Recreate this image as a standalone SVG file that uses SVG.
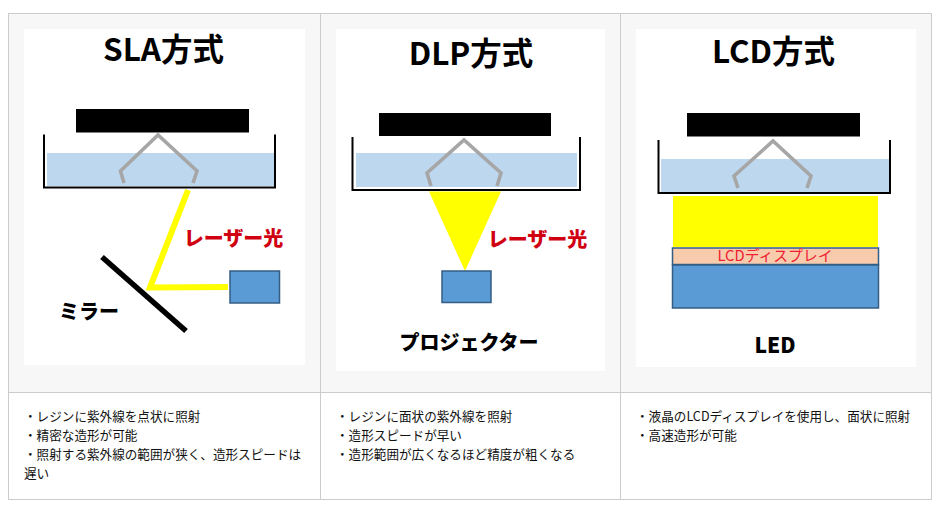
<svg xmlns="http://www.w3.org/2000/svg" width="937" height="505" viewBox="0 0 937 505">
<style>
text{font-family:"Noto Sans CJK JP","Liberation Sans",sans-serif}
.grid{fill:none;stroke:#ccc;stroke-width:1}
.title{font-size:31.500px;font-weight:700;fill:#000;text-anchor:middle}
.lab{font-size:20px;font-weight:900;fill:#000;text-anchor:middle}
.red{font-size:20px;font-weight:900;fill:#d00010;text-anchor:middle}
.body{font-size:12.6px;fill:#111}
.plate{fill:#000}
.liq{fill:#bdd7ee}
.tank{fill:none;stroke:#000;stroke-width:2}
.arm{fill:none;stroke:#a6a6a6;stroke-width:3.600}
.blue{fill:#5b9bd5;stroke:#335d85;stroke-width:1.500}
.beam{fill:none;stroke:#ff0;stroke-width:6}
</style>
<rect width="937" height="505" fill="#fff"/>
<g id="table">
<rect x="8.500" y="13.500" width="923" height="379" fill="#f7f7f7"/>
<rect x="8.500" y="13.500" width="923" height="486" class="grid"/>
<path class="grid" d="M320.500 13.500V499.500M620.500 13.500V499.500M8.500 392.500H931.500"/>
</g>
<g id="sla">
<rect x="24" y="29" width="281" height="336" fill="#fff"/>
<text x="163.500" y="61" class="title">SLA方式</text>
<rect x="76" y="109" width="173" height="23.500" class="plate"/>
<rect x="47" y="153" width="227" height="33" class="liq"/>
<path class="tank" d="M44 134.500V187.500H275V134.500"/>
<path class="arm" d="M124 183L120.500 171L158 135L197 171L193 183"/>
<path class="beam" d="M188 190L150 287.500L228 287"/>
<path d="M102 257L186 331" fill="none" stroke="#000" stroke-width="5.500"/>
<rect x="230" y="271" width="49.500" height="32" class="blue"/>
<text x="233.500" y="246" class="red">レーザー光</text>
<text x="89" y="319" class="lab">ミラー</text>
</g>
<g id="dlp">
<rect x="336" y="29" width="269" height="342" fill="#fff"/>
<text x="471" y="65" class="title">DLP方式</text>
<rect x="379" y="113" width="172" height="23" class="plate"/>
<rect x="356" y="153" width="221" height="34" class="liq"/>
<path class="tank" d="M352.500 137V190H580V137"/>
<path class="arm" d="M431 186L427 173L464 140L501 173L497 186"/>
<path d="M429 191.500H501L465 271Z" fill="#ff0"/>
<rect x="442" y="271" width="49" height="31.500" class="blue"/>
<text x="537.500" y="247" class="red">レーザー光</text>
<text x="469" y="350" class="lab">プロジェクター</text>
</g>
<g id="lcd">
<rect x="636" y="29" width="280" height="338" fill="#fff"/>
<text x="773.500" y="63" class="title">LCD方式</text>
<rect x="687" y="113" width="173" height="23.500" class="plate"/>
<rect x="661" y="159" width="228" height="33" class="liq"/>
<path class="tank" d="M658.500 140V193H890V140"/>
<path class="arm" d="M738 188L734 176L773 141L811 176L807 188"/>
<rect x="673" y="196" width="205" height="51" fill="#ff0"/>
<rect x="672.500" y="248" width="206" height="16.500" fill="#f8cbad" stroke="#335d85" stroke-width="1.500"/>
<text x="775" y="261" font-size="14.800" fill="#f02030" text-anchor="middle">LCDディスプレイ</text>
<rect x="672.500" y="265" width="206" height="43" class="blue"/>
<text x="775" y="352.500" class="lab" style="font-size:21px">LED</text>
</g>
<g id="notes">
<text class="body" x="24" y="421">・レジンに紫外線を点状に照射</text>
<text class="body" x="24" y="440">・精密な造形が可能</text>
<text class="body" x="24" y="459">・照射する紫外線の範囲が狭く、造形スピードは</text>
<text class="body" x="24" y="478">遅い</text>
<text class="body" x="336" y="421">・レジンに面状の紫外線を照射</text>
<text class="body" x="336" y="440">・造形スピードが早い</text>
<text class="body" x="336" y="459">・造形範囲が広くなるほど精度が粗くなる</text>
<text class="body" x="636" y="421">・液晶のLCDディスプレイを使用し、面状に照射</text>
<text class="body" x="636" y="440">・高速造形が可能</text>
</g>
</svg>
